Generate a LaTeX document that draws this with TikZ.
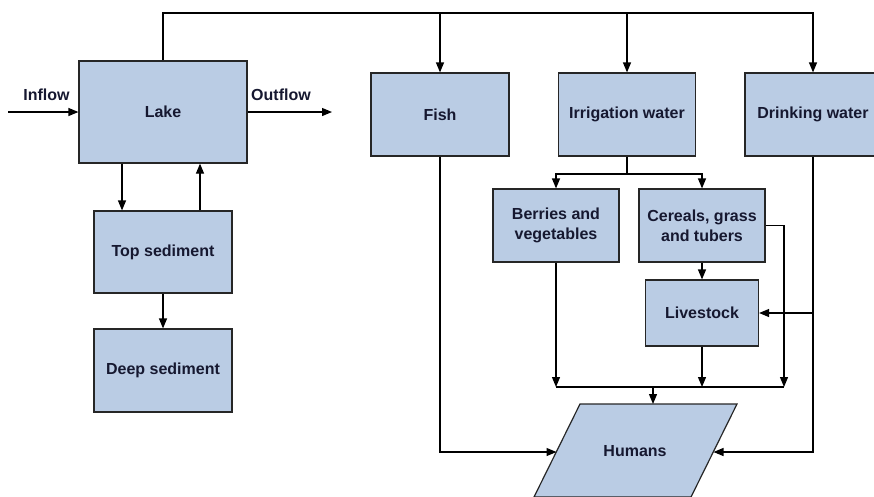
\documentclass[tikz,border=0pt]{standalone}
\usepackage{fontspec}
\setmainfont{Liberation Sans}
\usetikzlibrary{arrows.meta}
\definecolor{boxfill}{RGB}{186,204,228}
\definecolor{txt}{RGB}{22,24,48}
\begin{document}
\begin{tikzpicture}[x=1pt,y=-1pt,
  box/.style={draw=black!85, fill=boxfill, line width=1.2pt, inner sep=0pt, align=center,
              font=\bfseries\fontsize{16}{20}\selectfont, text=txt},
  conn/.style={line width=1.2pt, draw=black},
  arr/.style={conn, -{Triangle[length=10pt,width=8pt]}},
  lbl/.style={font=\bfseries\fontsize{16}{20}\selectfont, text=txt, inner sep=0pt}]
\useasboundingbox (0,0) rectangle (874,496);
\clip (0,0) rectangle (874,496);

% boxes
\node[box, minimum width=168pt, minimum height=102pt] (lake) at (163,112) {Lake};
\node[box, minimum width=138pt, minimum height=82pt] (top) at (163,252) {Top sediment};
\node[box, minimum width=138pt, minimum height=83pt] (deep) at (163,370.5) {Deep sediment};
\node[box, minimum width=138pt, minimum height=83pt] (fish) at (440,114.5) {Fish};
\node[box, minimum width=137pt, minimum height=83pt] (irr) at (627,114.5) {Irrigation water};
\node[box, minimum width=136pt, minimum height=83pt] (drink) at (813,114.5) {Drinking water};
\node[box, minimum width=126pt, minimum height=73pt] (berries) at (556,225.5) {Berries and\\vegetables};
\node[box, minimum width=126pt, minimum height=73pt] (cereals) at (702,225.5) {Cereals, grass\\and tubers};
\node[box, minimum width=113pt, minimum height=66pt] (live) at (702,313) {Livestock};

% Humans parallelogram
\draw[draw=black!85, fill=boxfill, line width=1.2pt] (580,404) -- (737,404) -- (691,497) -- (534,497) -- cycle;
\node[lbl] (humans) at (635,451) {Humans};
\coordinate (hl) at (556.5,452);
\coordinate (hr) at (713.5,452);
\coordinate (ht) at (653,404);

% labels
\node[lbl] (inflow) at (46.5,95) {Inflow};
\node[lbl] (outflow) at (281,95) {Outflow};

% inflow / outflow
\coordinate (inA) at (8,112);
\coordinate (outB) at (332,112);
\draw[arr] (inA) -- (lake.west);
\draw[arr] (lake.east) -- (outB);

% top distribution line
\coordinate (tl) at (163,13);
\coordinate (tr) at (813,13);
\draw[arr] (lake.north) -- (tl) -- (tr) -- (drink.north);
\draw[arr] (fish.north |- tl) -- (fish.north);
\draw[arr] (irr.north |- tl) -- (irr.north);

% sediments
\draw[arr] ([xshift=-41pt]lake.south) -- ([xshift=-41pt]top.north);
\draw[arr] ([xshift=37pt]top.north) -- ([xshift=37pt]lake.south);
\draw[arr] (top.south) -- (deep.north);

% irrigation branches
\coordinate (ij) at (627,174);
\draw[conn] (irr.south) -- (ij);
\draw[arr] (ij) -| (berries.north);
\draw[arr] (ij) -| (cereals.north);
\draw[arr] (cereals.south) -- (live.north);

% collector to humans
\coordinate (cl) at (556,387);
\coordinate (cr) at (784,387);
\coordinate (cm) at (653,387);
\draw[conn] (cl) -- (cr);
\draw[arr] (berries.south) -- (cl);
\draw[arr] (live.south) -- (live.south |- cl);
\draw[arr] (cereals.east) -| (cr);
\draw[arr] (cm) -- (ht);

% fish and drinking water to humans
\draw[arr] (fish.south) |- (hl);
\draw[arr] (drink.south) |- (hr);
\draw[arr] (drink.south |- live.east) -- (live.east);
\end{tikzpicture}
\end{document}
